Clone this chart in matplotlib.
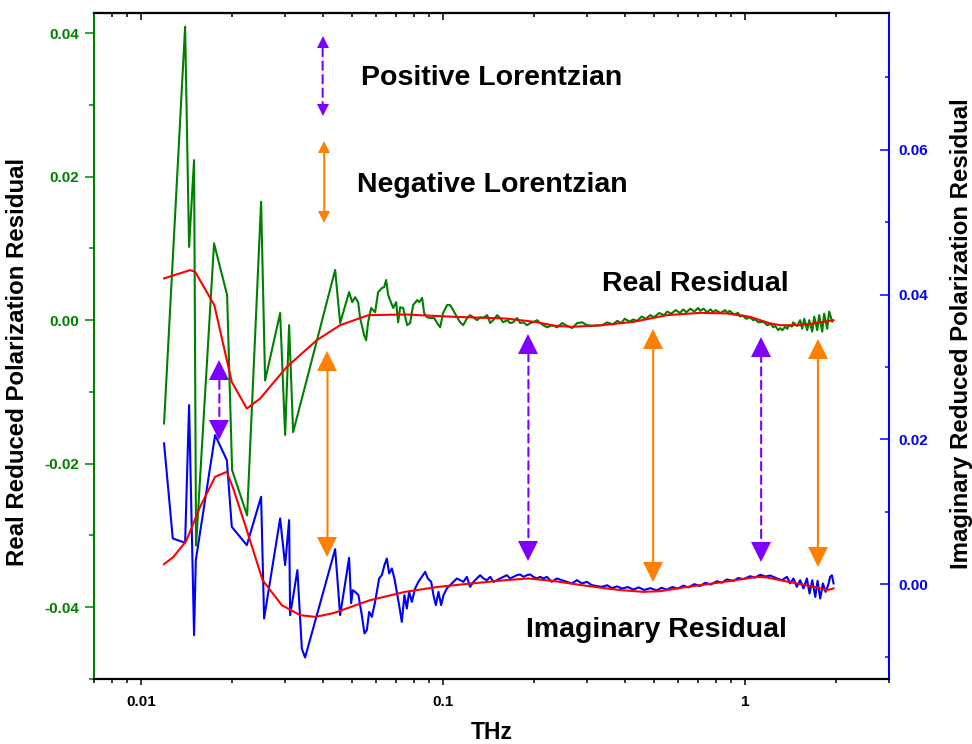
import numpy as np
import matplotlib
matplotlib.use('Agg')
from matplotlib import pyplot as plt
from matplotlib.ticker import MultipleLocator, FormatStrFormatter, LogLocator, FuncFormatter, NullFormatter
from matplotlib.transforms import offset_copy

plt.rcParams['font.family'] = ['Liberation Sans', 'DejaVu Sans']
plt.rcParams['font.weight'] = 'bold'
plt.rcParams['axes.unicode_minus'] = False

#%% Residual data (values in units of 1e-3)

# real residual, left axis
re_thz = [0.01194, 0.01402, 0.01445, 0.01501, 0.01524, 0.01748, 0.01931, 0.02006, 0.02249, 0.02502,
          0.0258, 0.02893, 0.03005, 0.03098, 0.03194, 0.03499, 0.0440, 0.04571, 0.04894, 0.05008,
          0.05124, 0.05243, 0.05324, 0.05489, 0.05572, 0.05658, 0.05788, 0.05967, 0.06106, 0.06295,
          0.06392, 0.06491, 0.06591, 0.06743, 0.06847, 0.07006, 0.07112, 0.07222, 0.07388, 0.07618,
          0.07794, 0.07974, 0.08221, 0.08347, 0.0854, 0.08672, 0.08872, 0.09077, 0.09359, 0.09575,
          0.09797, 0.1002, 0.1033, 0.1057, 0.1082, 0.1115, 0.1141, 0.1168, 0.1204, 0.1231,
          0.1260, 0.1299, 0.1329, 0.1360, 0.1402, 0.1435, 0.1468, 0.1513, 0.1548, 0.1584,
          0.1633, 0.1671, 0.1709, 0.1762, 0.1803, 0.1845, 0.1902, 0.1946, 0.1991, 0.2053,
          0.2100, 0.2148, 0.2215, 0.2301, 0.2390, 0.2483, 0.2580, 0.2680, 0.2785, 0.2893,
          0.3005, 0.3122, 0.3370, 0.350, 0.365, 0.378, 0.390, 0.400, 0.415, 0.427,
          0.440, 0.455, 0.470, 0.486, 0.500, 0.520, 0.540, 0.553, 0.570, 0.590,
          0.610, 0.625, 0.640, 0.660, 0.680, 0.700, 0.711, 0.730, 0.750, 0.770,
          0.785, 0.800, 0.830, 0.860, 0.874, 0.890, 0.920, 0.950, 0.965, 0.980,
          1.010, 1.040, 1.065, 1.080, 1.110, 1.150, 1.186, 1.220, 1.241, 1.260,
          1.290, 1.309, 1.330, 1.360, 1.381, 1.400, 1.430, 1.445, 1.490, 1.524,
          1.548, 1.572, 1.608, 1.633, 1.671, 1.697, 1.736, 1.762, 1.803, 1.830,
          1.873, 1.901, 1.946]
re_res = [-14.4, 40.9, 10.2, 22.3, -31.4, 10.7, 3.5, -20.9, -27.2, 16.5,
          -8.4, 1.0, -16.0, -0.7, -15.6, -9.2, 7.0, -0.4, 3.9, 2.5,
          3.2, 2.5, 0.3, -2.1, -2.8, -0.3, 1.7, 1.1, 3.9, 4.5,
          4.6, 5.6, 3.5, 2.4, 1.7, 2.5, -0.3, 1.8, 1.7, -0.7,
          -0.4, 2.1, 2.8, 2.5, 3.1, 1.0, 0.4, 0.3, 0.3, -0.4,
          -1.0, 1.0, 2.1, 2.1, 1.4, 0.4, -0.3, -0.7, 0.3, 0.7,
          0.4, 0.0, 0.4, 0.3, 0.7, -0.4, 0.0, 0.7, 0.3, -0.3,
          0.0, -0.4, -0.3, 0.3, -0.4, -0.3, -0.7, -0.4, -0.3, 0.0,
          -0.4, -0.7, -1.0, -0.7, -1.0, -0.4, -0.8, -1.1, -0.4, -0.3,
          -0.7, -0.8, -0.7, -0.3, -0.6, -0.1, -0.4, 0.2, -0.2, 0.1,
          -0.1, 0.5, 0.2, 0.7, 0.4, 1.0, 0.7, 1.2, 0.9, 1.4,
          1.0, 1.5, 1.1, 1.6, 1.2, 1.7, 1.3, 1.6, 1.1, 1.5,
          1.1, 1.4, 1.0, 1.4, 1.0, 1.3, 0.8, 1.0, 0.5, 0.7,
          0.2, 0.4, 0.0, 0.1, -0.3, -0.2, -0.7, -0.5, -1.0, -0.8,
          -1.4, -1.1, -1.4, -0.9, -1.2, -0.7, -0.9, -0.3, -0.8, 0.0,
          -1.2, 0.2, -1.4, 0.0, -1.6, 0.5, -1.4, 0.7, -1.6, 0.9,
          -1.2, 1.2, -0.2]

# real fit
re_fit_thz = [0.01194, 0.01456, 0.01513, 0.01752, 0.02001, 0.02244, 0.02483, 0.03044, 0.03826, 0.0457,
              0.0567, 0.07502, 0.1098, 0.1608, 0.2021, 0.2354, 0.2675, 0.3361, 0.4267, 0.5530,
              0.7112, 0.874, 1.041, 1.213, 1.309, 1.524, 1.688, 1.966]
re_fit = [5.82, 6.97, 6.74, 2.09, -8.61, -12.32, -10.92, -6.51, -2.79, -0.70,
          0.70, 0.79, 0.46, 0.24, -0.24, -0.79, -0.93, -0.70, -0.24, 0.70,
          1.02, 0.93, 0.46, -0.46, -0.70, -0.70, -0.46, 0.0]

# imaginary residual, right axis
im_thz = [0.01194, 0.01276, 0.01402, 0.01445, 0.01501, 0.01521, 0.01762, 0.01927, 0.02001, 0.02244,
          0.02502, 0.0256, 0.02893, 0.03005, 0.03098, 0.03122, 0.0330, 0.03413, 0.03499, 0.0440,
          0.04571, 0.04894, 0.04971, 0.05035, 0.05124, 0.05255, 0.05393, 0.05501, 0.05602, 0.05702,
          0.05819, 0.05967, 0.06152, 0.06281, 0.06406, 0.06525, 0.0664, 0.06778, 0.06913, 0.07041,
          0.07166, 0.07314, 0.07461, 0.076, 0.07734, 0.07896, 0.08095, 0.08301, 0.0852, 0.08739,
          0.0892, 0.09148, 0.09309, 0.0948, 0.0967, 0.09872, 0.1005, 0.1031, 0.1057, 0.1084,
          0.1113, 0.1141, 0.117, 0.1201, 0.1231, 0.1263, 0.1296, 0.1329, 0.1363, 0.1399,
          0.1435, 0.1471, 0.1510, 0.1548, 0.1588, 0.1629, 0.1671, 0.1713, 0.1758, 0.1803,
          0.1849, 0.1897, 0.1946, 0.1995, 0.2048, 0.2100, 0.2154, 0.2210, 0.2296, 0.2385,
          0.2477, 0.2574, 0.2675, 0.2779, 0.2886, 0.2998, 0.3114, 0.336, 0.350, 0.363,
          0.377, 0.392, 0.410, 0.427, 0.445, 0.465, 0.486, 0.510, 0.530, 0.552,
          0.575, 0.600, 0.626, 0.650, 0.680, 0.711, 0.740, 0.770, 0.808, 0.840,
          0.870, 0.917, 0.950, 0.990, 1.041, 1.080, 1.124, 1.170, 1.213, 1.276,
          1.326, 1.378, 1.413, 1.448, 1.486, 1.524, 1.563, 1.604, 1.637, 1.671,
          1.710, 1.740, 1.776, 1.813, 1.849, 1.887, 1.916, 1.941, 1.966]
im_res = [19.45, 6.32, 5.71, 24.74, -7.05, 3.32, 20.59, 17.14, 7.92, 5.39,
          12.07, -4.74, 9.08, 2.63, 8.85, -4.28, 1.94, -8.89, -10.13, 4.84,
          -4.28, 3.64, -2.63, -0.83, -1.06, -1.52, -4.28, -6.81, -6.36, -3.83,
          -4.52, -2.45, 0.79, 1.24, 2.63, 3.55, 1.48, 2.17, 0.79, -1.06,
          -2.90, -5.21, -1.52, -3.36, -1.06, -2.45, -0.59, 0.32, 1.01, 1.70,
          0.79, 0.32, -1.52, -2.90, -1.06, -2.90, -1.52, -0.59, -0.14, 0.32,
          0.79, 0.55, 0.32, 1.01, -0.37, 0.32, 0.79, 1.24, 0.79, 0.55,
          1.01, 0.32, 0.55, 0.79, 1.01, 1.24, 0.79, 1.01, 1.24, 1.34,
          1.01, 1.24, 1.34, 1.01, 0.79, 1.01, 0.79, 1.01, 0.32, 0.79,
          0.55, 0.32, 0.10, 0.55, 0.10, 0.32, -0.14, -0.37, -0.15, -0.55,
          -0.30, -0.60, -0.40, -0.75, -0.45, -0.80, -0.55, -0.85, -0.50, -0.75,
          -0.40, -0.60, -0.20, -0.45, 0.00, -0.25, 0.20, -0.05, 0.40, 0.20,
          0.65, 0.45, 0.85, 0.70, 1.10, 0.90, 1.30, 1.05, 1.20, 0.79,
          0.55, 1.01, 0.10, 0.79, -0.37, 0.55, -0.59, 0.79, -1.29, 0.55,
          -1.76, 0.46, -1.98, 0.10, -1.06, -0.14, 1.01, 1.24, 0.10]

# imaginary fit
im_fit_thz = [0.01194, 0.0128, 0.01413, 0.01572, 0.01762, 0.01927, 0.02021, 0.02244, 0.02531, 0.0293,
              0.0337, 0.03778, 0.04333, 0.05744, 0.07502, 0.0967, 0.1247, 0.1608, 0.1920, 0.2354,
              0.2886, 0.3361, 0.3894, 0.4617, 0.5243, 0.6263, 0.8079, 0.9647, 1.0958, 1.182,
              1.342, 1.524, 1.732, 1.869, 1.966]
im_fit = [2.76, 3.73, 5.94, 10.68, 14.83, 15.52, 13.27, 7.46, 0.55, -2.90,
          -4.28, -4.52, -4.01, -2.21, -1.06, -0.37, 0.10, 0.55, 0.79, 0.41,
          -0.14, -0.51, -0.83, -1.06, -0.97, -0.46, 0.18, 0.65, 1.01, 0.93,
          0.46, 0.0, -0.46, -0.83, -0.59]

# Lorentzian markers (THz, top, bottom) in real-axis units of 1e-3
pos_thz = [0.0400, 0.0182, 0.192, 1.132]
pos_top = [39.6, -5.5, -1.9, -2.3]
pos_bot = [28.4, -16.7, -33.6, -33.7]
neg_thz = [0.0405, 0.0415, 0.497, 1.745]
neg_top = [24.9, -4.2, -1.2, -2.5]
neg_bot = [13.5, -33.0, -36.6, -34.4]

#%% Plot

c_re, c_im, c_fit = '#008000', '#0000FF', '#FF0000'
c_pos, c_neg = '#8000FF', '#FF8000'

fig = plt.figure(figsize=(9.72, 7.44), dpi=100)
ax = fig.add_axes([0.09671, 0.08737, 0.81790, 0.89516])
ax2 = ax.twinx()

ax.plot(re_thz, np.array(re_res)*1e-3, color=c_re, lw=1.5)
ax.plot(re_fit_thz, np.array(re_fit)*1e-3, color=c_fit, lw=1.5)
ax2.plot(im_thz, np.array(im_res)*1e-3, color=c_im, lw=1.5)
ax2.plot(im_fit_thz, np.array(im_fit)*1e-3, color=c_fit, lw=1.5)

ax.set_xscale('log')
ax.set_xlim(0.0070, 3.0)
ax.set_ylim(-0.0500, 0.0428)
ax2.set_ylim(-0.0131, 0.0789)

# x axis
ax.xaxis.set_major_locator(LogLocator(base=10))
ax.xaxis.set_minor_locator(LogLocator(base=10, subs=np.arange(2, 10)))
ax.xaxis.set_major_formatter(FuncFormatter(lambda v, p: '%g' % v))
ax.xaxis.set_minor_formatter(NullFormatter())
ax.tick_params(axis='x', which='major', direction='out', length=4.5, width=1.1, labelsize=11, pad=7)
ax.tick_params(axis='x', which='minor', direction='out', length=2.8, width=1.1)

top = ax.secondary_xaxis('top')
top.xaxis.set_minor_locator(LogLocator(base=10, subs=np.arange(2, 10)))
top.tick_params(axis='x', which='major', direction='in', length=5, width=1.1, labeltop=False)
top.tick_params(axis='x', which='minor', direction='in', length=3, width=1.1)
top.xaxis.set_major_formatter(NullFormatter())
top.xaxis.set_minor_formatter(NullFormatter())
top.spines['top'].set_linewidth(1.5)

# left axis
ax.yaxis.set_major_locator(MultipleLocator(0.02))
ax.yaxis.set_minor_locator(MultipleLocator(0.01))
ax.yaxis.set_major_formatter(FormatStrFormatter('%.2f'))
ax.tick_params(axis='y', which='major', direction='out', length=6.5, width=1.1,
               colors=c_re, labelsize=11, pad=4)
ax.tick_params(axis='y', which='minor', direction='out', length=3.4, width=1.1, colors=c_re)

# right axis
ax2.yaxis.set_major_locator(MultipleLocator(0.02))
ax2.yaxis.set_minor_locator(MultipleLocator(0.01))
ax2.yaxis.set_major_formatter(FormatStrFormatter('%.2f'))
ax2.tick_params(axis='y', which='major', direction='in', length=6.5, width=1.1,
                colors=c_im, labelsize=11, pad=7)
ax2.tick_params(axis='y', which='minor', direction='in', length=3, width=1.1, colors=c_im)

for s in ['top', 'bottom']:
    ax.spines[s].set_linewidth(1.5)
    ax2.spines[s].set_linewidth(1.5)
ax.spines['left'].set_color(c_re)
ax.spines['left'].set_linewidth(1.5)
ax.spines['right'].set_visible(False)
ax2.spines['left'].set_visible(False)
ax2.spines['right'].set_color(c_im)
ax2.spines['right'].set_linewidth(1.5)

# double headed arrows marking the Lorentzians: shaft plus two solid triangle heads
def lorentz_arrow(x, y_top, y_bot, color, ls, size):
    y_top, y_bot = y_top*1e-3, y_bot*1e-3
    ax2.annotate('', xy=(x, y_top), xytext=(x, y_bot),
                 xycoords=ax.transData, textcoords=ax.transData,
                 arrowprops=dict(arrowstyle='-', color=color, lw=1.5, linestyle=ls,
                                 shrinkA=size/2, shrinkB=size/2))
    up = offset_copy(ax.transData, fig=fig, y=-size/2, units='points')
    dn = offset_copy(ax.transData, fig=fig, y=size/2, units='points')
    ax2.plot([x], [y_top], marker='^', ms=size, mew=0, color=color, transform=up, zorder=5)
    ax2.plot([x], [y_bot], marker='v', ms=size, mew=0, color=color, transform=dn, zorder=5)

for i in range(len(pos_thz)):
    lorentz_arrow(pos_thz[i], pos_top[i], pos_bot[i], c_pos, (0, (4, 2.5)), 15 if i > 0 else 8.5)
for i in range(len(neg_thz)):
    lorentz_arrow(neg_thz[i], neg_top[i], neg_bot[i], c_neg, '-', 15 if i > 0 else 8.5)

ax2.text(0.3355, 0.8919, 'Positive Lorentzian', transform=ax.transAxes, fontsize=20.5,
         fontweight='bold', ha='left', va='baseline')
ax2.text(0.3304, 0.7317, 'Negative Lorentzian', transform=ax.transAxes, fontsize=20.5,
         fontweight='bold', ha='left', va='baseline')
ax2.text(0.6386, 0.5830, 'Real Residual', transform=ax.transAxes, fontsize=20.5,
         fontweight='bold', ha='left', va='baseline')
ax2.text(0.8713, 0.0635, 'Imaginary Residual', transform=ax.transAxes, fontsize=20.5,
         fontweight='bold', ha='right', va='baseline')

# axis titles
fig.text(0.0185, 0.5134, 'Real Reduced Polarization Residual', rotation=90,
         fontsize=17.3, fontweight='bold', ha='center', va='center')
fig.text(0.9897, 0.5511, 'Imaginary Reduced Polarization Residual', rotation=90,
         fontsize=17.3, fontweight='bold', ha='center', va='center')
fig.text(0.5059, 0.0067, 'THz', fontsize=16.5, fontweight='bold', ha='center', va='baseline')

fig.savefig('out.png', dpi=100)
